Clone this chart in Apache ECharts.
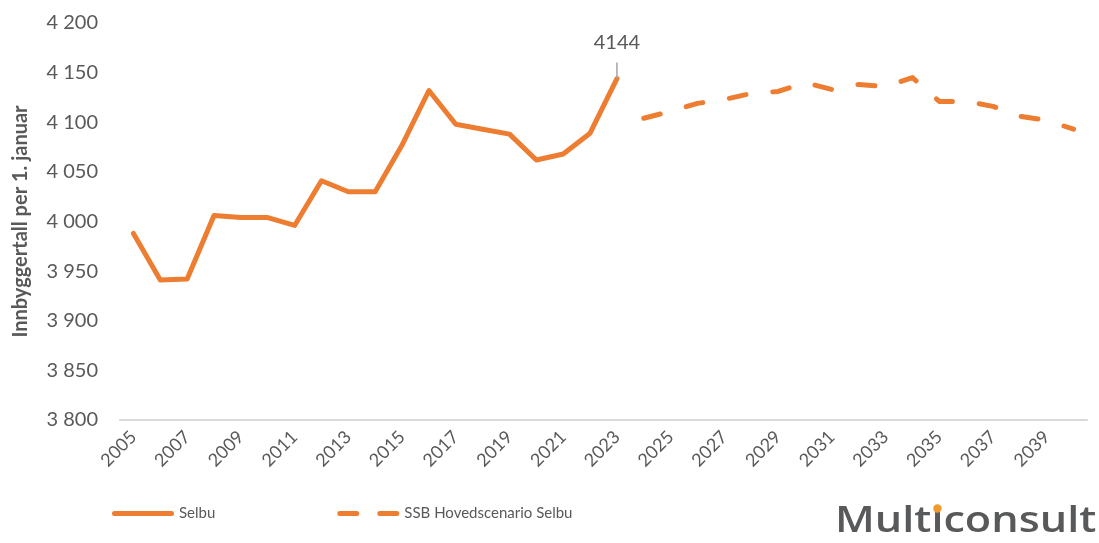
<!DOCTYPE html>
<html>
<head>
<meta charset="utf-8">
<script src="https://cdn.jsdelivr.net/npm/echarts@6/dist/echarts.min.js"></script>
<style>
  html, body { margin: 0; padding: 0; background: #ffffff; }
  #chart { width: 1099px; height: 543px; }
</style>
</head>
<body>
<div id="chart"></div>
<script>
// Years on the category axis
const years = [];
for (let y = 2005; y <= 2040; y++) years.push(String(y));

// Registered population per 1 January, Selbu
const selbuValues = [3988, 3941, 3942, 4006, 4004, 4004, 3996, 4041, 4030, 4030,
                     4077, 4132, 4098, 4093, 4088, 4062, 4068, 4089, 4144];

// SSB main-scenario projection, 2024–2040
const projectionStart = '2024';
const projectionValues = [4104, 4111, 4119, 4123, 4129, 4131, 4140, 4133, 4138,
                          4136, 4145, 4121, 4121, 4116, 4106, 4102, 4093];

const yTicks = { min: 3800, max: 4200, interval: 50 };

const seriesNames = ['Selbu', 'SSB Hovedscenario Selbu'];

const orange = '#ED7D31';
const textGray = '#595959';
const font = 'Lato, "Open Sans", sans-serif';

const lastIdx = selbuValues.length - 1;
const selbuData = selbuValues.map((v, i) => i === lastIdx
  ? { value: v, label: { show: true } }
  : v);

const offset = years.indexOf(projectionStart);
const projectionData = years.map((y, i) =>
  i >= offset ? projectionValues[i - offset] : null);

const spaced = v => String(v).replace(/\B(?=(\d{3})+(?!\d))/g, ' ');

// Legend keys: a rounded bar for the solid line, two rounded dashes for the projection
const solidKey = 'path://M2.5,0H59.5A2.5,2.5,0,0,1,59.5,5H2.5A2.5,2.5,0,0,1,2.5,0Z';
const dashKey = 'path://M2.5,0H19.5A2.5,2.5,0,0,1,19.5,5H2.5A2.5,2.5,0,0,1,2.5,0Z' +
                'M42.5,0H59.5A2.5,2.5,0,0,1,59.5,5H42.5A2.5,2.5,0,0,1,42.5,0Z';

// Wordmark in the lower right corner, with an orange dot on the "i"
const logo = {
  text: 'Multiconsult',
  font: '600 36px "Open Sans", sans-serif',
  left: 835,
  top: 504,
  scaleX: 1.2,
  size: 36
};
const measure = document.createElement('canvas').getContext('2d');
measure.font = logo.font;
const dotX = logo.left + logo.scaleX *
  (measure.measureText('Mult').width + measure.measureText('i').width / 2);

const chart = echarts.init(document.getElementById('chart'), null, { renderer: 'canvas' });

chart.setOption({
  animation: false,
  backgroundColor: '#ffffff',
  grid: { left: 120, right: 12, top: 23, bottom: 123, containLabel: false },
  xAxis: {
    type: 'category',
    data: years,
    boundaryGap: true,
    axisLine: { show: true, lineStyle: { color: '#D9D9D9', width: 2 } },
    axisTick: { show: false },
    axisLabel: {
      interval: 1,
      rotate: 45,
      margin: 14,
      color: textGray,
      fontFamily: font,
      fontSize: 18
    },
    splitLine: { show: false }
  },
  yAxis: {
    type: 'value',
    min: yTicks.min,
    max: yTicks.max,
    interval: yTicks.interval,
    name: 'Innbyggertall per 1. januar',
    nameLocation: 'middle',
    nameGap: 89,
    nameTextStyle: {
      color: textGray,
      fontFamily: font,
      fontSize: 20,
      fontWeight: 'bold'
    },
    axisLine: { show: false },
    axisTick: { show: false },
    splitLine: { show: false },
    axisLabel: {
      margin: 22,
      color: textGray,
      fontFamily: font,
      fontSize: 20,
      formatter: spaced
    }
  },
  legend: {
    left: 112,
    top: 506,
    padding: 0,
    itemWidth: 62,
    itemHeight: 5,
    itemGap: 122,
    textStyle: { color: textGray, fontFamily: font, fontSize: 15 },
    data: [
      { name: seriesNames[0], icon: solidKey },
      { name: seriesNames[1], icon: dashKey }
    ]
  },
  series: [
    {
      name: seriesNames[0],
      type: 'line',
      data: selbuData,
      symbol: 'circle',
      symbolSize: 0,
      showSymbol: true,
      itemStyle: { color: orange },
      lineStyle: { color: orange, width: 5, cap: 'round', join: 'round' },
      label: {
        show: false,
        position: 'top',
        distance: 26,
        color: textGray,
        fontFamily: font,
        fontSize: 20
      },
      labelLine: { show: true, lineStyle: { color: '#A6A6A6', width: 1.5 } }
    },
    {
      name: seriesNames[1],
      type: 'line',
      data: projectionData,
      symbol: 'none',
      itemStyle: { color: orange },
      lineStyle: { color: orange, width: 5, type: [17, 27], cap: 'round', join: 'round' }
    }
  ],
  graphic: [
    {
      type: 'text',
      left: logo.left,
      top: logo.top,
      scaleX: logo.scaleX,
      style: { text: logo.text, fill: '#58595B', font: logo.font },
      z: 10
    },
    {
      type: 'circle',
      shape: { cx: dotX, cy: 508.5, r: 4.2 },
      style: { fill: '#F39A2E' },
      z: 11
    }
  ]
});
</script>
</body>
</html>
